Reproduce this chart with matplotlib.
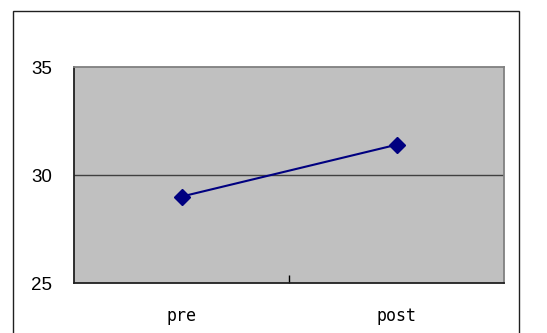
import matplotlib.pyplot as plt
from matplotlib.patches import Rectangle

categories = ['pre', 'post']
values = [29.0, 31.4]
y_ticks = [25, 30, 35]

fig = plt.figure(figsize=(5.47, 3.33), dpi=100)
ax = fig.add_axes([74 / 547, 50 / 333, 430 / 547, 216 / 333])

# outer chart border, runs off the bottom of the picture
fig.patches.append(Rectangle((13 / 547, -0.1), 506 / 547, 1.1 - 11 / 333,
                             transform=fig.transFigure, fill=False,
                             edgecolor='#202020', linewidth=1.0))

ax.set_facecolor('#c0c0c0')
x = list(range(len(categories)))
ax.plot(x, values, color='#000080', linewidth=1.5, marker='D',
        markersize=8, markerfacecolor='#000080', markeredgecolor='#000080',
        zorder=3)

ax.set_xlim(-0.5, len(categories) - 0.5)
ax.set_ylim(25, 35)
ax.set_yticks(y_ticks)
ax.set_yticklabels([str(v) for v in y_ticks], fontsize=13.5,
                   family='Liberation Sans')
ax.tick_params(axis='y', length=0, pad=16)
ax.axhline(30, color='#404040', linewidth=1.0, zorder=2)

# category boundary tick only; labels sit under the category centres
ax.set_xticks([0.5])
ax.set_xticklabels([''])
ax.tick_params(axis='x', direction='in', length=6, width=1, color='black')
for xi, lab in zip(x, categories):
    ax.text(xi, 23.47, lab, ha='center', va='center', fontsize=12,
            family='DejaVu Sans Mono', clip_on=False)

for s in ['left', 'bottom']:
    ax.spines[s].set_color('#202020')
    ax.spines[s].set_linewidth(1.3)
for s in ['top', 'right']:
    ax.spines[s].set_color('#808080')
    ax.spines[s].set_linewidth(1.3)

fig.savefig('out.png', dpi=100)
